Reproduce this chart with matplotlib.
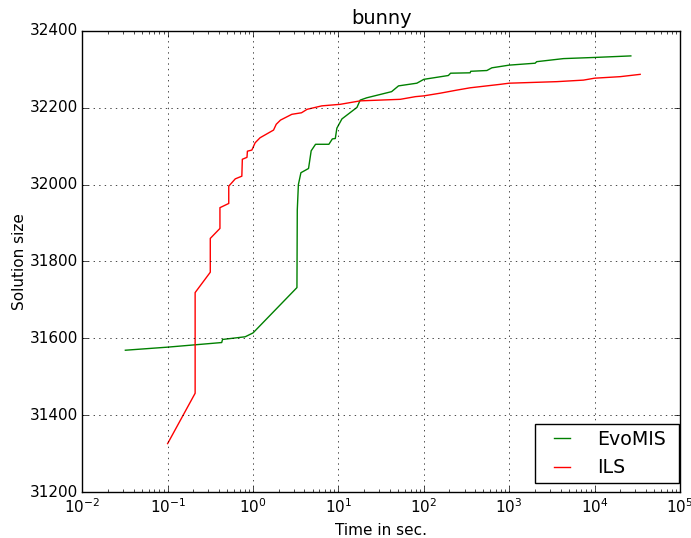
import matplotlib
matplotlib.use("Agg")
import matplotlib.pyplot as plt

plt.style.use("classic")
plt.rcParams["font.size"] = 11

# EvoMIS curve (time in sec, solution size)
evo_t = [0.032, 0.1, 0.43, 0.44, 0.81, 1.0, 3.27, 3.3, 3.4, 3.64, 4.47, 4.8, 5.4, 7.74,
         8.5, 9.2, 9.6, 11, 16.5, 18, 21.5, 42, 50.6, 83, 100, 194, 206, 349, 355,
         548, 627, 1000, 2014, 2100, 4335, 10000, 26600]
evo_y = [31569, 31577, 31589, 31597, 31604, 31614, 31732, 31934, 32000, 32031, 32042,
         32088, 32105, 32105, 32119, 32120, 32147, 32171, 32201, 32220, 32226, 32242,
         32257, 32264, 32274, 32284, 32290, 32291, 32295, 32297, 32304, 32311, 32316,
         32320, 32328, 32331, 32335]

# ILS curve
ils_t = [0.1, 0.21, 0.21, 0.316, 0.316, 0.41, 0.41, 0.52, 0.52, 0.62, 0.74, 0.75,
         0.85, 0.86, 0.97, 1.06, 1.21, 1.74, 1.87, 2.1, 2.85, 3.7, 4.3, 6.4, 10.5,
         18, 53, 80, 100, 156, 244, 349, 785, 1000, 3615, 7410, 10000, 20000, 34200]
ils_y = [31326, 31457, 31719, 31772, 31860, 31886, 31940, 31951, 31996, 32015, 32022,
         32066, 32071, 32087, 32090, 32109, 32122, 32142, 32157, 32168, 32183, 32187,
         32196, 32205, 32209, 32218, 32222, 32229, 32231, 32238, 32246, 32252, 32261,
         32264, 32268, 32272, 32277, 32281, 32287]

fig = plt.figure(figsize=(6.91, 5.38), dpi=100, facecolor="white")
ax = fig.add_axes([0.119, 0.0855, 0.865, 0.857])

ax.plot(evo_t, evo_y, color="g", label="EvoMIS")
ax.plot(ils_t, ils_y, color="r", label="ILS")

ax.set_xscale("log")
ax.set_xlim(1e-2, 1e5)
ax.set_ylim(31200, 32400)
ax.grid(True)
ax.tick_params(axis="y", pad=3)
ax.set_title("bunny", fontsize=14)
ax.set_xlabel("Time in sec.")
ax.set_ylabel("Solution size", labelpad=2)

# old-style legend: wide side padding, tighter top/bottom
leg = ax.legend(loc="lower right", bbox_to_anchor=(0.9793, 0.0274), borderaxespad=0,
                fontsize=13.7, handlelength=1.47, handletextpad=1.1, borderpad=0.1,
                labelspacing=0.51)
leg.get_frame().set_boxstyle("square", pad=0.6)
leg.get_frame().set_mutation_aspect(0.32)

fig.savefig("out.png", dpi=100, facecolor="white")
